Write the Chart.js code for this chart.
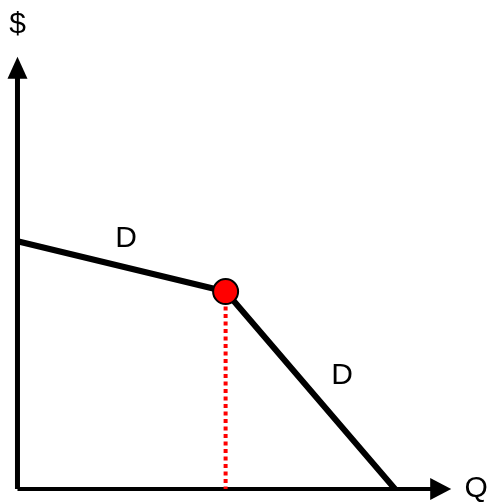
<!DOCTYPE html>
<html>
<head>
<meta charset="utf-8">
<script src="https://cdn.jsdelivr.net/npm/chart.js@4"></script>
<style>
  html, body { margin: 0; padding: 0; background: #fff; }
  canvas { display: block; }
</style>
</head>
<body>
<canvas id="kinkChart" width="487" height="503"></canvas>
<script>
// kinked demand curve: Q on x, $ on y
const demandPoints = [
    { x: 0, y: 9.9 },
    { x: 5, y: 7.89 },
    { x: 9.07, y: 0 }
];
const kinkPoint = [{ x: 5, y: 7.89 }];
const dropLine = [{ x: 5, y: 7.89 }, { x: 5, y: 0 }];
const yAxisLine = [{ x: 0, y: 0 }, { x: 0, y: 16.9 }];
const xAxisLine = [{ x: 0, y: 0 }, { x: 10.1, y: 0 }];
const yArrowTip = { x: 0, y: 17.27 };
const xArrowTip = { x: 10.42, y: 0 };

// text labels (in data units)
const textLabels = [
    { text: '$', x: 0, y: 18.55 },
    { text: 'Q', x: 11.02, y: 0 },
    { text: 'D', x: 2.61, y: 10 },
    { text: 'D', x: 7.8, y: 4.52 }
];

const arrowsAndText = {
    id: 'arrowsAndText',
    afterDatasetsDraw(chart) {
        const ctx = chart.ctx;
        const xs = chart.scales.x, ys = chart.scales.y;
        ctx.save();
        ctx.fillStyle = '#000';

        // y axis arrowhead
        let tx = xs.getPixelForValue(yArrowTip.x);
        let ty = ys.getPixelForValue(yArrowTip.y);
        ctx.beginPath();
        ctx.moveTo(tx, ty);
        ctx.lineTo(tx - 10, ty + 22);
        ctx.lineTo(tx + 10, ty + 22);
        ctx.closePath();
        ctx.fill();

        // x axis arrowhead
        tx = xs.getPixelForValue(xArrowTip.x);
        ty = ys.getPixelForValue(xArrowTip.y);
        ctx.beginPath();
        ctx.moveTo(tx, ty);
        ctx.lineTo(tx - 21, ty - 11);
        ctx.lineTo(tx - 21, ty + 11);
        ctx.closePath();
        ctx.fill();

        ctx.font = '30px "Liberation Sans", Arial, sans-serif';
        ctx.textAlign = 'center';
        ctx.textBaseline = 'middle';
        textLabels.forEach(l => {
            ctx.fillText(l.text, xs.getPixelForValue(l.x), ys.getPixelForValue(l.y));
        });
        ctx.restore();
    }
};

const config = {
    type: 'scatter',
    data: {
        datasets: [
            {
                data: kinkPoint,
                order: 0,
                pointRadius: 12.5,
                pointBackgroundColor: '#ff0000',
                pointBorderColor: '#000',
                pointBorderWidth: 2,
                showLine: false
            },
            {
                data: demandPoints,
                order: 1,
                showLine: true,
                borderColor: '#000',
                borderWidth: 6,
                pointRadius: 0,
                tension: 0
            },
            {
                data: dropLine,
                order: 2,
                showLine: true,
                borderColor: '#ff0000',
                borderWidth: 4,
                borderDash: [4, 3.5],
                pointRadius: 0
            },
            {
                data: yAxisLine,
                order: 3,
                showLine: true,
                borderColor: '#000',
                borderWidth: 5,
                pointRadius: 0
            },
            {
                data: xAxisLine,
                order: 3,
                showLine: true,
                borderColor: '#000',
                borderWidth: 4,
                pointRadius: 0
            }
        ]
    },
    options: {
        responsive: false,
        animation: false,
        layout: { padding: 0, autoPadding: false },
        plugins: {
            legend: { display: false },
            tooltip: { enabled: false }
        },
        scales: {
            x: { type: 'linear', min: -0.42, max: 11.28, display: false },
            y: { type: 'linear', min: -0.56, max: 19.54, display: false }
        }
    },
    plugins: [arrowsAndText]
};

const ctx = document.getElementById('kinkChart').getContext('2d');
new Chart(ctx, config);
</script>
</body>
</html>
